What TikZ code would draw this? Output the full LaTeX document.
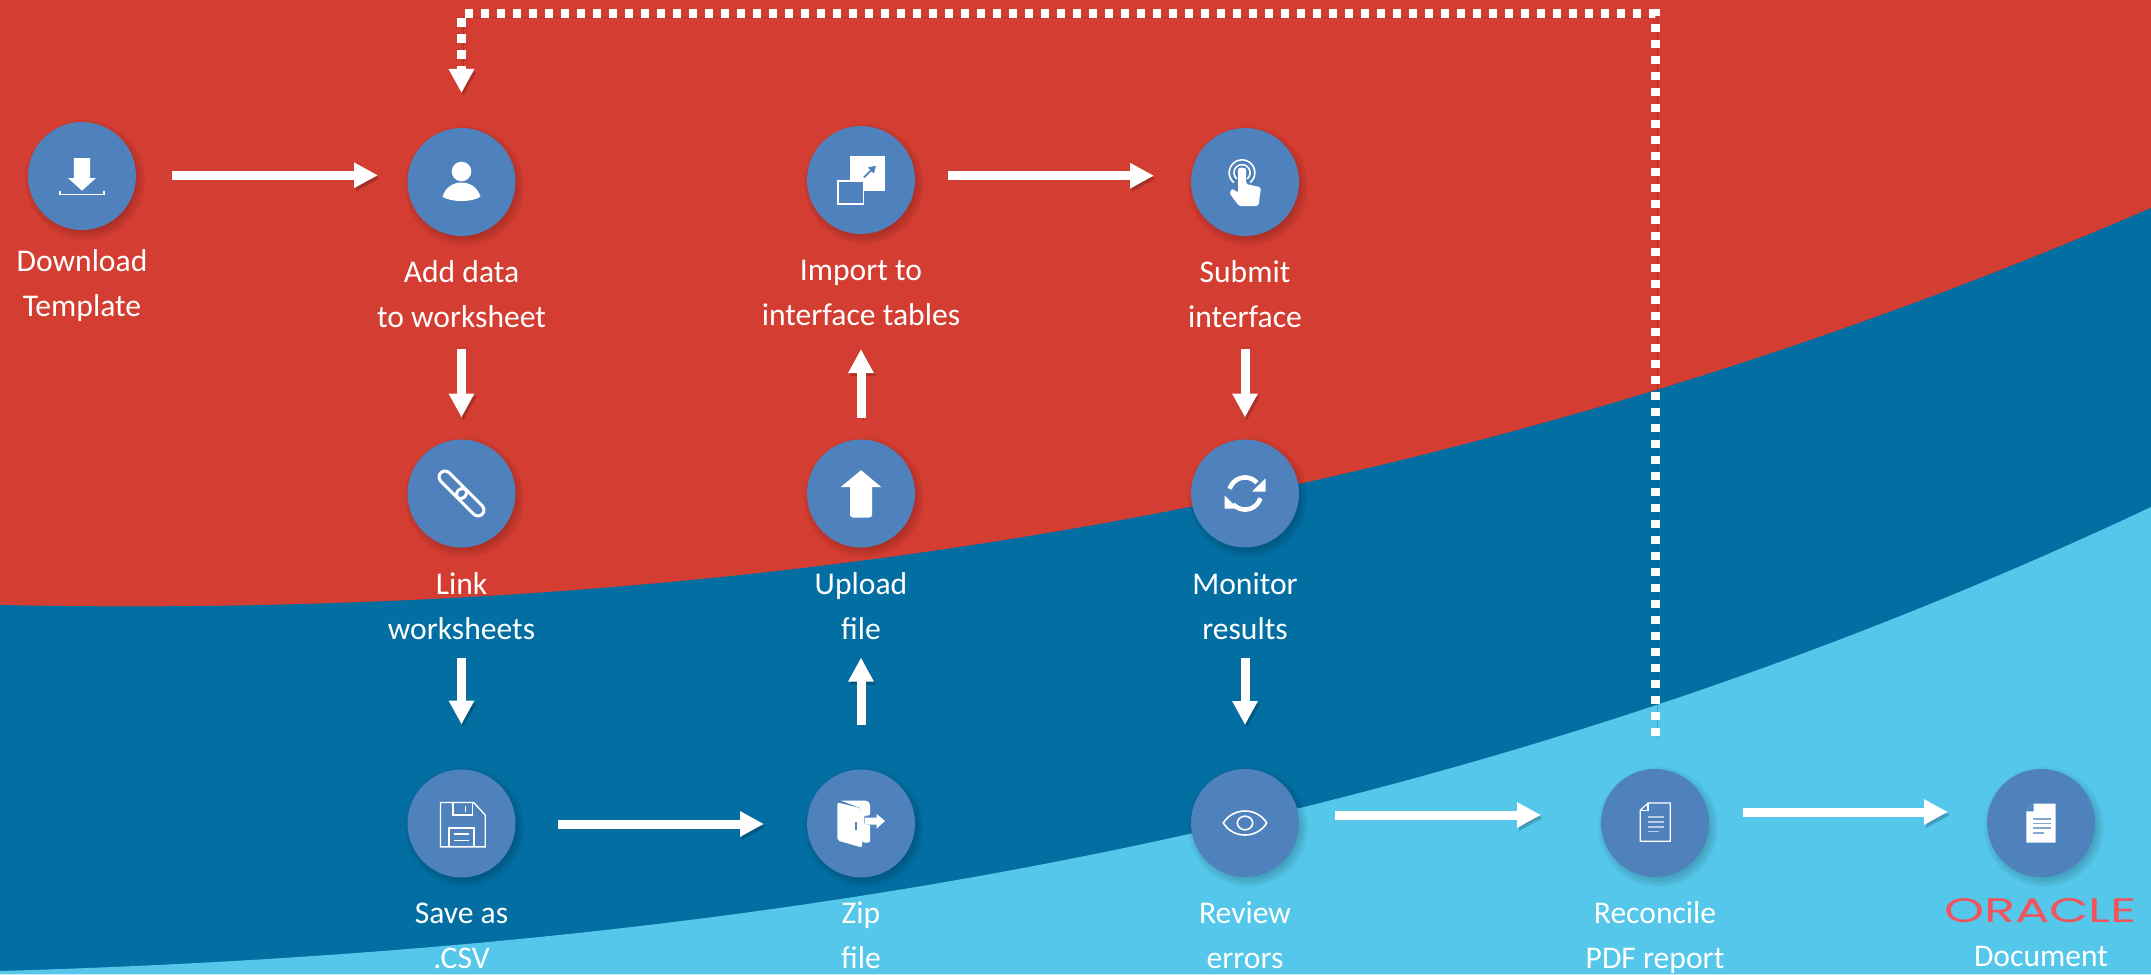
\documentclass[tikz,border=0pt]{standalone}
\usepackage{fontspec}
\setmainfont{Carlito}
\newfontfamily\logofont{Poppins}
\usetikzlibrary{arrows.meta,calc}
\definecolor{redbg}{HTML}{D43D31}
\definecolor{darkbg}{HTML}{036EA2}
\definecolor{lightbg}{HTML}{54C7EA}
\definecolor{disc}{HTML}{4F81BD}
\definecolor{docline}{HTML}{B9CDE6}
\definecolor{logored}{HTML}{F2545B}
\tikzset{
  stepdisc/.style={circle,fill=disc,minimum size=54pt,inner sep=0pt,outer sep=0pt},
  lbl/.style={text=white,align=center,anchor=base,inner sep=0pt,font=\fontsize{15.8}{22.4}\selectfont},
  flow/.style={draw=white,line width=4.5pt,-{Triangle[length=12pt,width=12pt]},
    preaction={draw=black,opacity=.2,transform canvas={shift={(1pt,-1.5pt)}}}},
  backflow/.style={draw=white,line width=4.5pt,dash pattern=on 4.2pt off 3.8pt,
    -{Triangle[length=12pt,width=12pt]},
    preaction={draw=black,opacity=.18,transform canvas={shift={(1pt,-1.5pt)}}}},
  thinw/.style={draw=white,line width=.7pt,fill=none},
}
\newcommand{\stepdot}[3]{%
  \foreach \rr in {46,48,50,52,54,56,58,60}
    \fill[black,opacity=.035] ({#2+3},{#3+4}) circle[radius=\rr];
  \node[stepdisc] (#1) at (#2,#3) {};
}
\begin{document}
\begin{tikzpicture}[x=0.5pt,y=-0.5pt]
\useasboundingbox (0,0) rectangle (2151,974);
% background bands
\fill[redbg] (0,0) rectangle (2151,974);
\fill[darkbg] (0,605) .. controls (717,619.6) and (1434,518) .. (2151,208) -- (2151,974) -- (0,974) -- cycle;
\fill[lightbg] (0,971) .. controls (717,950) and (1434,845) .. (2151,507) -- (2151,974) -- (0,974) -- cycle;
% discs
\stepdot{dl}{82}{176}
\stepdot{add}{461.5}{182}
\stepdot{imp}{861}{180}
\stepdot{sub}{1245}{182}
\stepdot{lnk}{461.5}{493.5}
\stepdot{upl}{861}{493.5}
\stepdot{mon}{1245}{493.5}
\stepdot{sav}{461.5}{823.5}
\stepdot{zip}{861}{823.5}
\stepdot{rev}{1245}{823}
\stepdot{rec}{1655}{823}
\stepdot{doc}{2041}{823}
% labels
\node[lbl] (dlt) at (82,316) {Download\\Template};
\node[lbl] (addt) at (461.5,327) {Add data\\to worksheet};
\node[lbl] (impt) at (861,325) {Import to\\interface tables};
\node[lbl] (subt) at (1245,327) {Submit\\interface};
\node[lbl] (lnkt) at (461.5,639) {Link\\worksheets};
\node[lbl] (uplt) at (861,639) {Upload\\file};
\node[lbl] (mont) at (1245,639) {Monitor\\results};
\node[lbl] (savt) at (461.5,968) {Save as\\.CSV};
\node[lbl] (zipt) at (861,968) {Zip\\file};
\node[lbl] (revt) at (1245,968) {Review\\errors};
\node[lbl] (rect) at (1655,968) {Reconcile\\PDF report};
\node[lbl] (doct) at (2041,966.7) {Document};
\node[text=logored,anchor=base,inner sep=0pt,xscale=1.5,font=\logofont\fontsize{17}{17}\selectfont] (logo) at (2040.5,922) {ORACLE};
% connectors
\draw[flow] ($(dl.east)+(36,-.7)$) -- ($(add.west)+(-29.5,-6.7)$);
\draw[flow] ($(imp.east)+(33,-4.3)$) -- ($(sub.west)+(-37,-6.3)$);
\draw[flow] ($(add.south)+(0,113)$) -- ($(lnk.north)+(0,-22)$);
\draw[flow] ($(sub.south)+(0,113)$) -- ($(mon.north)+(0,-22)$);
\draw[flow] ($(lnk.south)+(0,110)$) -- ($(sav.north)+(0,-45)$);
\draw[flow] ($(mon.south)+(0,110)$) -- ($(rev.north)+(0,-44)$);
\draw[flow] ($(upl.north)+(0,-22)$) -- ($(imp.south)+(0,115)$);
\draw[flow] ($(zip.north)+(0,-45)$) -- ($(upl.south)+(0,110)$);
\draw[flow] ($(sav.east)+(42.5,.5)$) -- ($(zip.west)+(-43,.5)$);
\draw[flow] ($(rev.east)+(36,-8)$) -- ($(rec.west)+(-60,-8)$);
\draw[flow] ($(rec.east)+(33.5,-11)$) -- ($(doc.west)+(-39,-11)$);
\coordinate (top) at (1000,14);
\draw[backflow] ($(rec.north)+(0,-33)$) -- (rec |- top) -- (add |- top) -- ($(add.north)+(0,-35)$);
% icon: download
\begin{scope}[shift={(dl)}]
\fill[white] (-8.2,-18) -- (8.2,-18) -- (8.2,2) -- (14,2) -- (0,14.7) -- (-14,2) -- (-8.2,2) -- cycle;
\draw[thinw] (-22,14.5) -- (-22,18.5) -- (22,18.5) -- (22,14.5);
\end{scope}
% icon: person
\begin{scope}[shift={(add)}]
\fill[white] (0,-10.5) circle[radius=9.8];
\fill[white] (-19,14.7) .. controls (-16,5) and (-8,.5) .. (0,.5) .. controls (8,.5) and (16,5) .. (19,14.7) .. controls (10,20.5) and (-10,20.5) .. cycle;
\end{scope}
% icon: import
\begin{scope}[shift={(imp)}]
\fill[white] (-11,-24) rectangle (24,10.7);
\draw[draw=white,line width=.8pt,fill=disc] (-23,.7) rectangle (2.3,23.7);
\draw[draw=disc,line width=.9pt,-{Triangle[length=3.5pt,width=4pt]}] (3,-2.7) -- (15,-14.3);
\end{scope}
% icon: touch
\begin{scope}[shift={(sub)}]
\draw[thinw,line width=.8pt] plot[domain=130:410,samples=30,variable=\t] ({-3+12.8*cos(\t)},{-9.3+12.8*sin(\t)});
\draw[thinw,line width=.8pt] plot[domain=130:410,samples=30,variable=\t] ({-3+8*cos(\t)},{-9.3+8*sin(\t)});
\fill[white,rounded corners=1.2pt] (-7,-10) .. controls (-7,-15) and (1,-15) .. (1,-10) -- (1,2) -- (16,5.3) -- (13.4,24) -- (-6,24) -- (-15.7,11) -- (-12.7,6.3) -- (-7,11) -- cycle;
\end{scope}
% icon: link
\begin{scope}[shift={(lnk)}]
\draw[white,line width=7.5pt,line cap=round] (-16.5,-16.5) -- (-1,-1);
\draw[disc,line width=4.4pt,line cap=round] (-16.5,-16.5) -- (-1,-1);
\draw[white,line width=7.5pt,line cap=round] (1,1) -- (16.5,16.5);
\draw[disc,line width=4.4pt,line cap=round] (1,1) -- (16.5,16.5);
\draw[white,line width=1.55pt] plot[domain=-45:135,samples=20,variable=\t] ({-1+5.95*cos(\t)},{-1+5.95*sin(\t)});
\end{scope}
% icon: upload
\begin{scope}[shift={(upl)}]
\fill[white] (0,-23.3) -- (20.3,-6.4) -- (11,-6.4) -- (11,21) .. controls (11,23) and (10,24) .. (8,24) -- (-8,24) .. controls (-10,24) and (-11,23) .. (-11,21) -- (-11,-6.4) -- (-20.3,-6.4) -- cycle;
\end{scope}
% icon: refresh
\begin{scope}[shift={(mon)}]
\draw[white,line width=2.3pt] plot[domain=197:318,samples=20,variable=\t] ({16*cos(\t)},{16*sin(\t)});
\fill[white] (20.5,-15) -- (20.5,-2) -- (7,-2) -- cycle;
\draw[white,line width=2.3pt] plot[domain=17:138,samples=20,variable=\t] ({16*cos(\t)},{16*sin(\t)});
\fill[white] (-20.5,15) -- (-20.5,2) -- (-7,15) -- cycle;
\end{scope}
% icon: save
\begin{scope}[shift={(sav)}]
\draw[thinw] (-21,-21) -- (12.2,-21) -- (23.7,-8.5) -- (23.7,23.3) -- (-21,23.3) -- cycle;
\draw[thinw] (-8.4,-21) -- (-8.4,-8.5) -- (10.7,-8.5) -- (10.7,-21);
\draw[thinw] (3.8,-18) -- (3.8,-12);
\draw[thinw] (-12.6,23.3) -- (-12.6,4.6) -- (12.6,4.6) -- (12.6,23.3);
\draw[thinw] (-7.6,10.6) -- (7.6,10.6);
\draw[thinw] (-7.6,17) -- (7.6,17);
\end{scope}
% icon: door
\begin{scope}[shift={(zip)}]
\fill[white,rounded corners=1pt] (-20.5,-23) -- (6,-23) -- (9.2,-20) -- (9.2,-8) -- (3,-8) -- (3,1) -- (9.2,1) -- (9.2,19) -- (1,19) -- (1,-15) -- cycle;
\fill[white,rounded corners=1pt] (-23.6,-21) -- (1,-15) -- (1,24) -- (-23.6,17) -- cycle;
\fill[disc] (-5.6,-2) rectangle (-3.6,6);
\fill[white] (3.5,-6) -- (15.7,-6) -- (15.7,-9.5) -- (24,-2.5) -- (15.7,5) -- (15.7,1) -- (3.5,1) -- cycle;
\end{scope}
% icon: eye
\begin{scope}[shift={(rev)}]
\draw[thinw,line width=.8pt] (-21.7,0) .. controls (-12,-16) and (12,-16) .. (21.7,0) .. controls (12,16) and (-12,16) .. cycle;
\draw[thinw,line width=.8pt] (0,0) circle[x radius=7.7,y radius=6.8];
\end{scope}
% icon: outlined page
\begin{scope}[shift={(rec)}]
\draw[thinw,line width=.6pt] (-7,-20) -- (15.3,-20) -- (15.3,18.3) -- (-14.7,18.3) -- (-14.7,-12.7) -- cycle;
\draw[thinw,line width=.6pt] (-7,-20) -- (-7,-12.7) -- (-14.7,-12.7);
\foreach \yy/\xx in {-6/9,-1/9,4/9,8.3/4}
  \draw[docline,line width=.7pt] (-7,\yy) -- (\xx,\yy);
\end{scope}
% icon: filled page
\begin{scope}[shift={(doc)}]
\fill[white] (-7.5,-19.3) -- (14.7,-19.3) -- (14.7,19.7) -- (-14.7,19.7) -- (-14.7,-11.7) -- cycle;
\fill[disc] (-7.5,-19.3) -- (-7.5,-11.7) -- (-14.7,-11.7) -- cycle;
\foreach \yy/\xx in {-4.3/9.6,.3/9.6,5/9.6,10/3}
  \draw[disc!70!white,line width=.8pt] (-8,\yy) -- (\xx,\yy);
\end{scope}
\end{tikzpicture}
\end{document}
